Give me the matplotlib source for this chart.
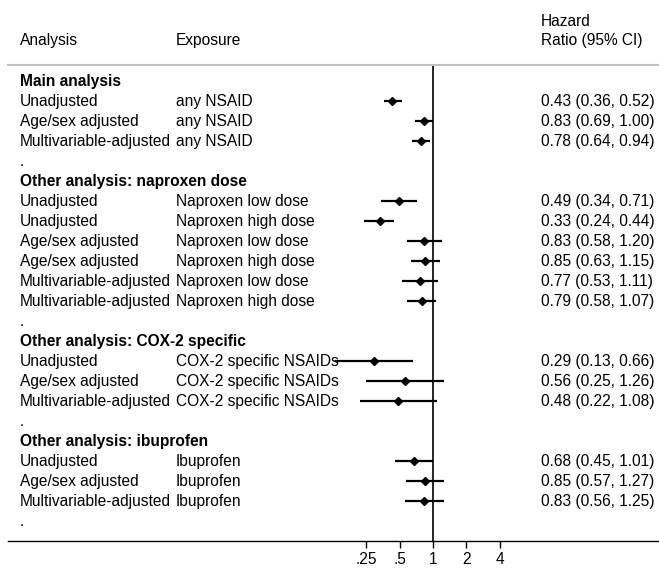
import matplotlib.pyplot as plt
import numpy as np
from matplotlib.transforms import blended_transform_factory

plt.rcParams['font.family'] = ['Liberation Sans', 'DejaVu Sans']

# rows of the table, top to bottom
analysis = ['Main analysis', 'Unadjusted', 'Age/sex adjusted', 'Multivariable-adjusted', '.',
            'Other analysis: naproxen dose', 'Unadjusted', 'Unadjusted', 'Age/sex adjusted',
            'Age/sex adjusted', 'Multivariable-adjusted', 'Multivariable-adjusted', '.',
            'Other analysis: COX-2 specific', 'Unadjusted', 'Age/sex adjusted', 'Multivariable-adjusted', '.',
            'Other analysis: ibuprofen', 'Unadjusted', 'Age/sex adjusted', 'Multivariable-adjusted', '.']
exposure = ['', 'any NSAID', 'any NSAID', 'any NSAID', '',
            '', 'Naproxen low dose', 'Naproxen high dose', 'Naproxen low dose',
            'Naproxen high dose', 'Naproxen low dose', 'Naproxen high dose', '',
            '', 'COX-2 specific NSAIDs', 'COX-2 specific NSAIDs', 'COX-2 specific NSAIDs', '',
            '', 'Ibuprofen', 'Ibuprofen', 'Ibuprofen', '']
is_header = [True, False, False, False, False,
             True, False, False, False, False, False, False, False,
             True, False, False, False, False,
             True, False, False, False, False]

hr = [None, 0.43, 0.83, 0.78, None,
      None, 0.49, 0.33, 0.83, 0.85, 0.77, 0.79, None,
      None, 0.29, 0.56, 0.48, None,
      None, 0.68, 0.85, 0.83, None]
lo = [None, 0.36, 0.69, 0.64, None,
      None, 0.34, 0.24, 0.58, 0.63, 0.53, 0.58, None,
      None, 0.13, 0.25, 0.22, None,
      None, 0.45, 0.57, 0.56, None]
hi = [None, 0.52, 1.00, 0.94, None,
      None, 0.71, 0.44, 1.20, 1.15, 1.11, 1.07, None,
      None, 0.66, 1.26, 1.08, None,
      None, 1.01, 1.27, 1.25, None]

xticks = [0.25, 0.5, 1, 2, 4]
xticklabels = ['.25', '.5', '1', '2', '4']

W, H = 659, 585
fig = plt.figure(figsize=(W / 100, H / 100), dpi=100)
ax = fig.add_axes([8 / W, (H - 541) / H, 1 - 8 / W, (541 - 65) / H])

ax.set_xscale('log', base=2)
ppd = 33.3   # pixels per doubling
ax.set_xlim(2 ** ((8 - 433) / ppd), 2 ** ((659 - 433) / ppd))
ax.set_ylim(23, -0.8)

for i in range(len(analysis)):
    if hr[i] is None:
        continue
    ax.plot([lo[i], hi[i]], [i, i], color='black', lw=1.6, solid_capstyle='butt', zorder=3)
    ax.plot(hr[i], i, marker='D', color='black', ms=4.5, zorder=4)

ax.axvline(1, color='black', lw=1.2, zorder=2)

fs = 11.2
ax.set_xticks(xticks)
ax.set_xticklabels(xticklabels)
ax.xaxis.set_minor_locator(plt.NullLocator())
ax.tick_params(axis='x', direction='out', length=5, width=1, labelsize=fs, pad=3)
ax.set_yticks([])
ax.spines['left'].set_visible(False)
ax.spines['right'].set_visible(False)
ax.spines['top'].set_color('#c0c0c0')
ax.spines['top'].set_linewidth(1.5)
ax.spines['bottom'].set_linewidth(1)

tr = blended_transform_factory(fig.transFigure, ax.transData)
for i in range(len(analysis)):
    ax.text(20 / W, i, analysis[i], transform=tr, fontsize=fs, va='center',
            fontweight='bold' if is_header[i] else 'normal', clip_on=False)
    if exposure[i]:
        ax.text(176 / W, i, exposure[i], transform=tr, fontsize=fs, va='center', clip_on=False)
    if hr[i] is not None:
        ax.text(541 / W, i, '%.2f (%.2f, %.2f)' % (hr[i], lo[i], hi[i]), transform=tr,
                fontsize=fs, va='center', clip_on=False)

# column headers
ax.text(20 / W, -2, 'Analysis', transform=tr, fontsize=fs, va='center', clip_on=False)
ax.text(176 / W, -2, 'Exposure', transform=tr, fontsize=fs, va='center', clip_on=False)
ax.text(541 / W, -2, 'Ratio (95% CI)', transform=tr, fontsize=fs, va='center', clip_on=False)
ax.text(541 / W, -3, 'Hazard', transform=tr, fontsize=fs, va='center', clip_on=False)

fig.savefig('out.png', dpi=100)
